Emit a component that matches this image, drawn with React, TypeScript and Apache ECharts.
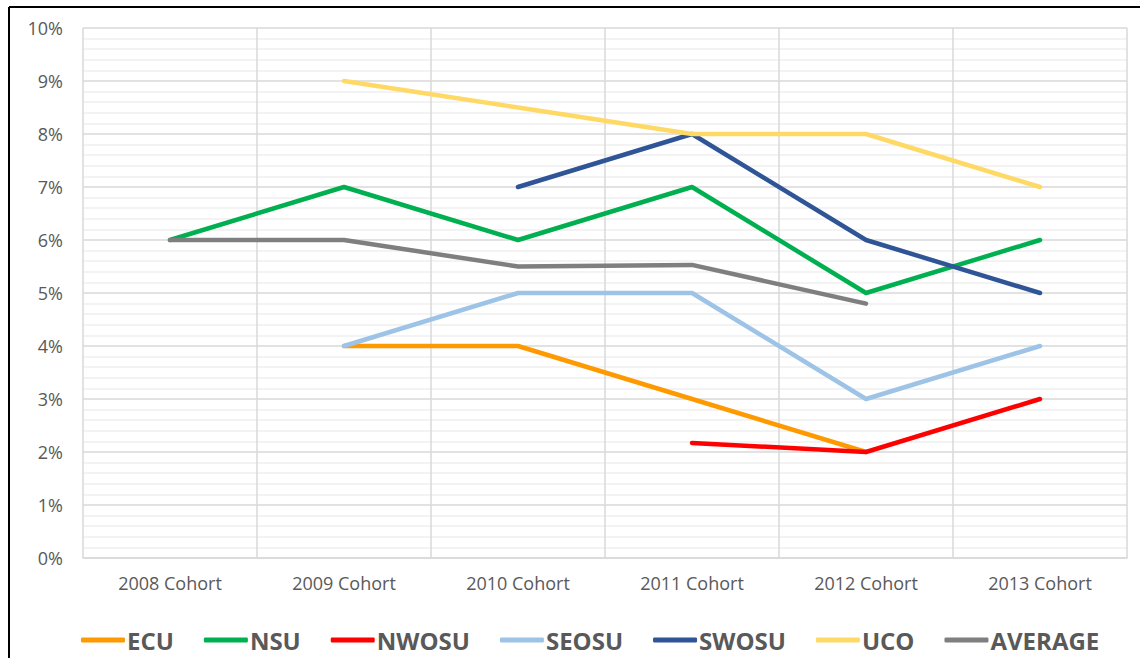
import React, { useEffect, useRef } from "react";
import * as echarts from "echarts";

const categories = ["2008 Cohort", "2009 Cohort", "2010 Cohort", "2011 Cohort", "2012 Cohort", "2013 Cohort"];
const ecu = [null, 4, 4, 3, 2, null];
const nsu = [6, 7, 6, 7, 5, 6];
const nwosu = [null, null, null, 2.17, 2, 3];
const seosu = [null, 4, 5, 5, 3, 4];
const swosu = [null, null, 7, 8, 6, 5];
const uco = [null, 9, 8.5, 8, 8, 7];
const average = [6, 6, 5.5, 5.53, 4.8, null];

const seriesNames = ["ECU", "NSU", "NWOSU", "SEOSU", "SWOSU", "UCO", "AVERAGE"];
const seriesData = [ecu, nsu, nwosu, seosu, swosu, uco, average];
const seriesColors = ["#FF9900", "#00B050", "#FF0000", "#9DC3E6", "#2F5597", "#FFD966", "#7F7F7F"];

export default function App() {
  const ref = useRef<HTMLDivElement>(null);
  useEffect(() => {
    if (!ref.current) return;
    const chart = echarts.init(ref.current, null, { renderer: "svg" });
    const font = "'Open Sans', sans-serif";
    chart.setOption({
      animation: false,
      backgroundColor: "#ffffff",
      textStyle: { fontFamily: font },
      grid: { left: 83, right: 13, top: 28, bottom: 100 },
      legend: {
        left: 76,
        top: 623,
        itemGap: 30,
        itemWidth: 44,
        itemHeight: 5,
        icon: "roundRect",
        textStyle: { color: "#595959", fontSize: 24, fontWeight: "bold", fontFamily: font, padding: [0, 0, 0, -3] },
        data: seriesNames,
      },
      xAxis: {
        type: "category",
        data: categories,
        boundaryGap: true,
        axisLine: { show: true, lineStyle: { color: "#D9D9D9", width: 1.5 } },
        axisTick: { show: false },
        axisLabel: { color: "#595959", fontSize: 18, margin: 16, fontFamily: font },
        splitLine: { show: true, lineStyle: { color: "#D9D9D9", width: 1.5 } },
      },
      yAxis: {
        type: "value",
        min: 0,
        max: 10,
        interval: 1,
        axisLine: { show: false },
        axisTick: { show: false },
        axisLabel: { color: "#595959", fontSize: 18, margin: 20, formatter: "{value}%", fontFamily: font },
        splitLine: { show: true, lineStyle: { color: "#D9D9D9", width: 1.5 } },
        minorTick: { show: false, splitNumber: 5 },
        minorSplitLine: { show: true, lineStyle: { color: "#EFEFEF", width: 1.5 } },
      },
      graphic: [
        { type: "line", shape: { x1: 9, y1: 7, x2: 1140, y2: 7 }, style: { stroke: "#000", lineWidth: 2 } },
        { type: "line", shape: { x1: 9, y1: 7, x2: 9, y2: 658 }, style: { stroke: "#000", lineWidth: 2 } },
      ],
      series: seriesNames.map((name, i) => ({
        name,
        type: "line",
        data: seriesData[i],
        color: seriesColors[i],
        showSymbol: false,
        symbol: "none",
        connectNulls: false,
        lineStyle: { width: 4.5, color: seriesColors[i], cap: "round", join: "round" },
        emphasis: { disabled: true },
      })),
    });
    return () => chart.dispose();
  }, []);
  return <div ref={ref} style={{ position: "absolute", left: 0, top: 0, width: 1140, height: 658 }} />;
}
